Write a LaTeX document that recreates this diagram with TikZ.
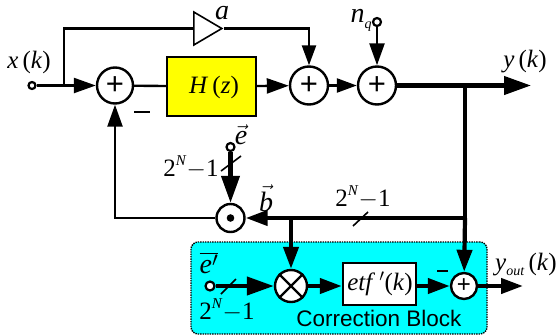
\documentclass[tikz,border=0pt]{standalone}
\usepackage{fontspec}
\setmainfont{Liberation Serif}
\newfontfamily\labelsans{Liberation Sans}
\usetikzlibrary{arrows.meta,shapes.geometric}
\definecolor{blockcyan}{RGB}{0,255,255}
\definecolor{blockyellow}{RGB}{255,255,0}
\tikzset{
  thinline/.style={line width=2.4pt},
  thickline/.style={line width=4.2pt},
  bigtip/.style={-{Triangle[length=27pt,width=18pt]}},
  midtip/.style={-{Triangle[length=22pt,width=15pt]}},
  smalltip/.style={-{Triangle[length=20pt,width=14pt]}},
  sumnode/.style={draw, circle, line width=2.4pt, fill=white, inner sep=0pt, font=\labelsans\fontsize{31}{31}\selectfont},
  termnode/.style={draw, circle, line width=2.2pt, fill=white, inner sep=0pt, minimum size=7pt},
  boxnode/.style={draw, line width=2.4pt, inner sep=0pt},
  eqlabel/.style={inner sep=0pt, font=\fontsize{25}{25}\selectfont},
  biglabel/.style={inner sep=0pt, font=\fontsize{28}{28}\selectfont},
  slash/.style={line width=1.6pt}
}
\newcommand{\busorder}{2\raisebox{11pt}{\fontsize{15}{15}\selectfont\textit{N}}$-$1}
\begin{document}
\begin{tikzpicture}[x=1pt, y=-1pt]
        \useasboundingbox (0,0) rectangle (559,335);

        %Correction block background
        \node [draw, densely dotted, line width=1.4pt, fill=blockcyan, rounded corners=7pt, minimum width=296pt, minimum height=92pt, inner sep=0pt] (corrblock) at (339,288) {};
        \node [inner sep=0pt, font=\labelsans\fontsize{22.5}{23}\selectfont] (corrlabel) at (379,318) {Correction Block};

        %Forward path
        \node [termnode] (xin) at (32,85.5) {};
        \coordinate (jx) at (64,85.5);
        \node [sumnode, minimum size=36pt] (sum1) at (115,85.5) {+};
        \node [boxnode, fill=blockyellow, minimum width=89pt, minimum height=59pt] (hz) at (211.5,86.5) {};
        \node [eqlabel] (hzlabel) at (214,87) {\textit{H}\,(\textit{z})};
        \node [sumnode, minimum size=38pt] (sum2) at (309,85.5) {+};
        \node [sumnode, minimum size=38pt] (sum3) at (377,85.5) {+};
        \coordinate (jy) at (465,85.5);
        \coordinate (yend) at (531,85.5);
        \node [termnode, minimum size=8pt] (nq) at (377,22) {};

        \draw [thinline]          (xin) -- (jx);
        \draw [thinline, midtip]  (jx) -- (sum1);
        \draw [thinline]          (sum1) -- (hz);
        \draw [thinline, midtip]  (hz) -- (sum2);
        \draw [thinline, smalltip] (sum2) -- (sum3);
        \draw [thinline, midtip]  (nq) -- (sum3);
        \draw [thickline]         (sum3) -- (jy);
        \draw [thickline, bigtip] (jy) -- (yend);

        %Gain path
        \node [draw, isosceles triangle, isosceles triangle stretches, line width=1.6pt, fill=white, minimum width=33pt, minimum height=28pt, inner sep=0pt, anchor=lower side] (gain) at (193,28.5) {};
        \draw [thinline]          (jx) |- (gain.lower side);
        \draw [thinline, smalltip] (gain.apex) -| (sum2.north);

        %Feedback path
        \coordinate (jf) at (465,218);
        \coordinate (jm) at (291,218);
        \node [sumnode, minimum size=28pt, path picture={\fill [black] (path picture bounding box.center) circle (3.8pt);}] (dotnode) at (230.5,218) {};
        \node [termnode, minimum size=8pt] (ein) at (230.5,147) {};
        \draw [thickline]         (jy) -- (jf);
        \draw [thickline, midtip] (jf) -- (dotnode);
        \draw [thickline, bigtip] (ein) -- (dotnode);
        \draw [thinline, midtip]  (dotnode) -| (sum1.south);

        %Correction path
        \node [sumnode, minimum size=32pt] (mult) at (291,286) {};
        \draw [line width=2.2pt]  (mult.north west) -- (mult.south east);
        \draw [line width=2.2pt]  (mult.north east) -- (mult.south west);
        \node [boxnode, fill=white, minimum width=73pt, minimum height=42pt] (etf) at (379.5,284) {};
        \node [eqlabel] (etflabel) at (380,284) {\textit{etf}\,$'$(\textit{k})};
        \node [sumnode, minimum size=26pt, font=\labelsans\fontsize{24}{24}\selectfont] (sum4) at (464,286) {+};
        \node [termnode, minimum size=9pt, minimum height=7pt] (epin) at (210,286) {};
        \coordinate (yout) at (523,286);
        \draw [thickline, bigtip] (epin) -- (mult);
        \draw [thickline, midtip] (mult) -- (etf.west |- mult);
        \draw [thickline, midtip] (etf.east |- sum4) -- (sum4);
        \draw [thickline, midtip] (sum4) -- (yout);
        \draw [thickline, midtip] (jm) -- (mult);
        \draw [thickline, midtip] (jf) -- (sum4);

        %Bus slashes
        \draw [slash] (221,171) -- (241,156);
        \draw [slash] (353,226) -- (368,212);
        \draw [slash] (221,294) -- (236,279);

        %Labels
        \node [eqlabel] (xlabel) at (29,62) {\textit{x}\,(\textit{k})};
        \node [biglabel] (alabel) at (222,13) {\textit{a}};
        \node [biglabel] (nqlabel) at (361,20) {\textit{n}\raisebox{-6pt}{\fontsize{14}{14}\selectfont\textit{q}}};
        \node [eqlabel] (ylabel) at (525,62) {\textit{y}\,(\textit{k})};
        \node [inner sep=0pt, minimum width=16pt, minimum height=2.6pt, fill=black] (minus1) at (142,112) {};
        \node [biglabel] (elabel) at (241,135) {$\vec{\mbox{\textit{e}}}$};
        \node [eqlabel] (bwidth1) at (191,167) {\busorder};
        \node [biglabel] (blabel) at (266,198) {$\vec{\mbox{\textit{b}}}$};
        \node [eqlabel] (bwidth2) at (363,197) {\busorder};
        \node [biglabel] (eplabel) at (209,263) {$\overline{\mbox{\textit{e}}'}$};
        \node [eqlabel] (bwidth3) at (227,310) {\busorder};
        \node [inner sep=0pt, minimum width=11pt, minimum height=1.4pt, fill=black] (minus2) at (442,271) {};
        \node [eqlabel] (youtlabel) at (526,265) {\textit{y}\raisebox{-5pt}{\fontsize{14}{14}\selectfont\textit{out}}\,(\textit{k})};

\end{tikzpicture}
\end{document}
